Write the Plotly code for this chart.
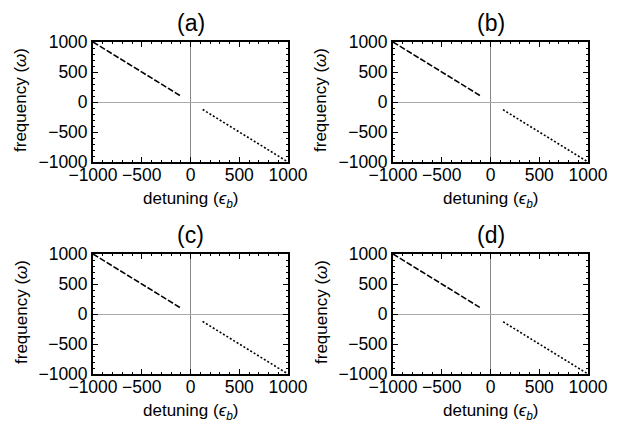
import plotly.graph_objects as go

panel_titles = ["(a)", "(b)", "(c)", "(d)"]
# negative-detuning branch (dashed) and positive-detuning branch (dotted), per panel
upper_x = [[-1000, -100], [-1000, -100], [-1000, -100], [-1000, -110]]
upper_y = [[1000, 100], [1000, 100], [1000, 100], [1000, 110]]
lower_x = [[125, 1000], [128, 1000], [124, 1000], [130, 1000]]
lower_y = [[-125, -1000], [-128, -1000], [-124, -1000], [-130, -1000]]
tick_vals = [-1000, -500, 0, 500, 1000]
tick_text = ["−1000", "−500", "0", "500", "1000"]
x_title = "detuning (<i>ϵ<sub>b</sub></i>)"
y_title = "frequency (<i>ω</i>)"

W, H = 632, 433
xdoms = [[93 / W, 288 / W], [393 / W, 588 / W]]
ydoms = [[1 - 162 / H, 1 - 42 / H], [1 - 374 / H, 1 - 254 / H]]

FONT = "Arial, Liberation Sans, sans-serif"
fig = go.Figure()
layout = dict(width=W, height=H, margin=dict(l=0, r=0, t=0, b=0),
              paper_bgcolor="white", plot_bgcolor="white", showlegend=False,
              font=dict(family=FONT, size=17, color="black"))
annotations = []
for i in range(4):
    r, c = divmod(i, 2)
    xa = "x" if i == 0 else f"x{i+1}"
    ya = "y" if i == 0 else f"y{i+1}"
    fig.add_trace(go.Scatter(x=upper_x[i], y=upper_y[i], mode="lines", xaxis=xa, yaxis=ya,
                             line=dict(color="black", width=1.6, dash="6px,2px")))
    fig.add_trace(go.Scatter(x=lower_x[i], y=lower_y[i], mode="lines", xaxis=xa, yaxis=ya,
                             line=dict(color="black", width=1.6, dash="2px,2px")))
    common = dict(range=[-1000, 1000], tickvals=tick_vals, ticktext=tick_text,
                  ticks="inside", ticklen=5, tickwidth=1, tickcolor="black", tickangle=0,
                  automargin=False,
                  minor=dict(dtick=100, tick0=0, ticks="inside", ticklen=2.5, tickcolor="black", tickwidth=1),
                  showline=True, linecolor="black", linewidth=1.8, mirror="allticks",
                  showgrid=False, zeroline=True, zerolinewidth=1.2,
                  tickfont=dict(family=FONT, size=17.5, color="black"))
    xkey = "xaxis" if i == 0 else f"xaxis{i+1}"
    ykey = "yaxis" if i == 0 else f"yaxis{i+1}"
    layout[xkey] = dict(common, domain=xdoms[c], anchor=ya, zerolinecolor="#888888",
                        ticklabelstandoff=-4)
    layout[ykey] = dict(common, domain=ydoms[r], anchor=xa, zerolinecolor="#aaaaaa", ticklabelstandoff=0)
    cx = (xdoms[c][0] + xdoms[c][1]) / 2
    cy = (ydoms[r][0] + ydoms[r][1]) / 2
    annotations.append(dict(text=panel_titles[i], x=cx, y=ydoms[r][1] + 19 / H,
                            xref="paper", yref="paper", showarrow=False,
                            xanchor="center", yanchor="middle",
                            font=dict(family=FONT, size=23, color="black")))
    annotations.append(dict(text=x_title, x=cx, y=ydoms[r][0] - 38 / H,
                            xref="paper", yref="paper", showarrow=False,
                            xanchor="center", yanchor="middle",
                            font=dict(family=FONT, size=17, color="black")))
    annotations.append(dict(text=y_title, x=xdoms[c][0] - 72 / W, y=cy + 2 / H,
                            xref="paper", yref="paper", showarrow=False, textangle=-90,
                            xanchor="center", yanchor="middle",
                            font=dict(family=FONT, size=17, color="black")))
layout["annotations"] = annotations
fig.update_layout(**layout)
fig.write_html("out.html")
